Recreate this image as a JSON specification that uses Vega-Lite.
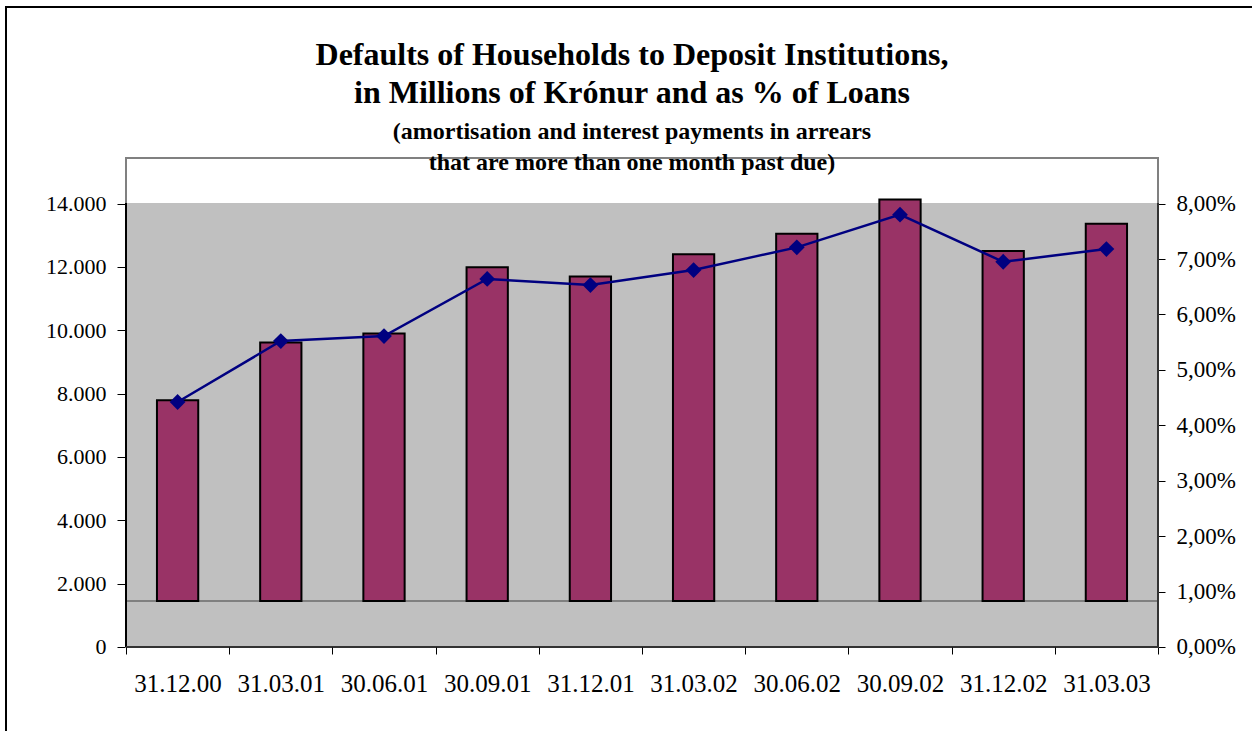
{
  "$schema": "https://vega.github.io/schema/vega-lite/v6.json",
  "autosize": "none",
  "padding": {"left": 6, "top": 7, "right": 0, "bottom": 0},
  "width": 1252,
  "height": 731,
  "background": "white",
  "config": {
    "view": {"stroke": "black", "strokeWidth": 2, "fill": "white"},
    "font": "Liberation Serif",
    "axis": {"labelFont": "Liberation Serif", "labelFontSize": 22, "labelColor": "black", "tickColor": "black", "tickWidth": 1, "grid": false, "title": null, "domain": false}
  },
  "title": {
    "text": ["Defaults of Households to Deposit Institutions,", "in Millions of Krónur and as % of Loans"],
    "subtitle": ["(amortisation and interest payments in arrears", "that are more than one month past due)"],
    "anchor": "middle",
    "frame": "group",
    "font": "Liberation Serif",
    "fontSize": 32,
    "fontWeight": "bold",
    "lineHeight": 38,
    "color": "black",
    "subtitleFont": "Liberation Serif",
    "subtitleFontSize": 24,
    "subtitleFontWeight": "bold",
    "subtitleColor": "black",
    "subtitleLineHeight": 31,
    "subtitlePadding": 10,
    "offset": -169
  },
  "data": {
    "values": [
      {"date": "31.12.00", "amount": 7790, "pct": 4.42},
      {"date": "31.03.01", "amount": 9610, "pct": 5.52},
      {"date": "30.06.01", "amount": 9900, "pct": 5.61},
      {"date": "30.09.01", "amount": 11990, "pct": 6.64},
      {"date": "31.12.01", "amount": 11700, "pct": 6.53},
      {"date": "31.03.02", "amount": 12400, "pct": 6.80},
      {"date": "30.06.02", "amount": 13045, "pct": 7.21},
      {"date": "30.09.02", "amount": 14130, "pct": 7.80},
      {"date": "31.12.02", "amount": 12500, "pct": 6.95},
      {"date": "31.03.03", "amount": 13360, "pct": 7.18}
    ]
  },
  "layer": [
    {
      "layer": [
        {
          "mark": {"type": "rect", "fill": "#C0C0C0"},
          "encoding": {
            "x": {"datum": "31.12.00", "type": "nominal", "bandPosition": 0},
            "x2": {"datum": "31.03.03", "bandPosition": 1},
            "y": {"datum": 0, "type": "quantitative"},
            "y2": {"datum": 14000}
          }
        },
        {
          "mark": {"type": "rect", "fill": null, "fillOpacity": 0, "stroke": "#808080", "strokeWidth": 2},
          "encoding": {
            "x": {"datum": "31.12.00", "type": "nominal", "bandPosition": 0},
            "x2": {"datum": "31.03.03", "bandPosition": 1},
            "y": {"datum": 0, "type": "quantitative"},
            "y2": {"datum": 15439}
          }
        },
        {
          "mark": {"type": "rule", "color": "#808080", "strokeWidth": 2},
          "encoding": {
            "x": {"datum": "31.12.00", "type": "nominal", "bandPosition": 0},
            "x2": {"datum": "31.03.03", "bandPosition": 1},
            "y": {"datum": 1450, "type": "quantitative"}
          }
        },
        {
          "mark": {"type": "bar", "fill": "#993366", "stroke": "black", "strokeWidth": 2, "width": {"band": 0.4}},
          "encoding": {
            "x": {
              "field": "date",
              "type": "nominal",
              "sort": null,
              "scale": {
                "domain": ["31.12.00", "31.03.01", "30.06.01", "30.09.01", "31.12.01", "31.03.02", "30.06.02", "30.09.02", "31.12.02", "31.03.03"],
                "range": [120, 1152],
                "paddingInner": 0,
                "paddingOuter": 0
              },
              "axis": {"orient": "bottom", "offset": -91, "labelAngle": 0, "labelAlign": "center", "tickBand": "extent", "tickSize": 7, "labelPadding": 29, "labelFontSize": 25}
            },
            "y": {
              "field": "amount",
              "type": "quantitative",
              "scale": {"domain": [-2874, 20207], "nice": false, "zero": false},
              "axis": {
                "orient": "left",
                "offset": -120,
                "values": [0, 2000, 4000, 6000, 8000, 10000, 12000, 14000],
                "labelExpr": "replace(format(datum.value, ',d'), ',', '.')",
                "tickSize": 9,
                "labelPadding": 11
              }
            },
            "y2": {"datum": 1450}
          }
        },
        {
          "mark": {"type": "rule", "color": "black", "strokeWidth": 2},
          "encoding": {
            "x": {"datum": "31.12.00", "type": "nominal", "bandPosition": 0},
            "y": {"datum": 0, "type": "quantitative"},
            "y2": {"datum": 14000}
          }
        },
        {
          "mark": {"type": "rule", "color": "#333333", "strokeWidth": 2},
          "encoding": {
            "x": {"datum": "31.03.03", "type": "nominal", "bandPosition": 1},
            "y": {"datum": 0, "type": "quantitative"},
            "y2": {"datum": 14000}
          }
        },
        {
          "mark": {"type": "rule", "color": "#333333", "strokeWidth": 2},
          "encoding": {
            "x": {"datum": "31.12.00", "type": "nominal", "bandPosition": 0},
            "x2": {"datum": "31.03.03", "bandPosition": 1},
            "y": {"datum": 0, "type": "quantitative"}
          }
        }
      ]
    },
    {
      "layer": [
        {
          "mark": {"type": "line", "color": "#000080", "strokeWidth": 2.5},
          "encoding": {
            "x": {"field": "date", "type": "nominal", "sort": null},
            "y": {
              "field": "pct",
              "type": "quantitative",
              "scale": {"domain": [-1.6423, 11.5469], "nice": false, "zero": false},
              "axis": {
                "orient": "right",
                "offset": -100,
                "values": [0, 1, 2, 3, 4, 5, 6, 7, 8],
                "labelExpr": "replace(format(datum.value, '.2f'), '.', ',') + '%'",
                "tickSize": 7,
                "labelPadding": 11,
                "labelFontSize": 23
              }
            }
          }
        },
        {
          "mark": {"type": "point", "shape": "diamond", "filled": true, "color": "#000080", "size": 250, "opacity": 1},
          "encoding": {
            "x": {"field": "date", "type": "nominal", "sort": null},
            "y": {"field": "pct", "type": "quantitative"}
          }
        }
      ]
    }
  ],
  "resolve": {"scale": {"y": "independent"}}
}
